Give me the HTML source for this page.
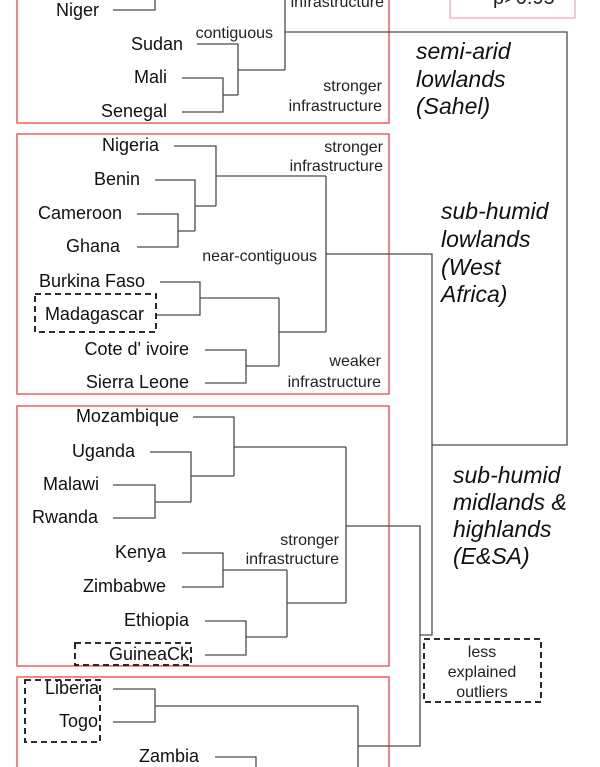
<!DOCTYPE html>
<html>
<head>
<meta charset="utf-8">
<style>
  html, body { margin: 0; padding: 0; background: #ffffff; }
  body { width: 600px; height: 767px; overflow: hidden; }
  svg { display: block; }
  .n { font-family: "Liberation Sans", Arial, sans-serif; font-size: 18px; fill: #111; text-anchor: end; }
  .s { font-family: "Liberation Sans", Arial, sans-serif; font-size: 16px; fill: #222; text-anchor: end; }
  .i { font-family: "Liberation Sans", Arial, sans-serif; font-size: 23px; font-style: italic; fill: #111; }
  .o { font-family: "Liberation Sans", Arial, sans-serif; font-size: 16px; fill: #222; text-anchor: middle; }
</style>
</head>
<body>
<svg width="600" height="767" viewBox="0 0 600 767" xmlns="http://www.w3.org/2000/svg">
  <rect x="0" y="0" width="600" height="767" fill="#ffffff"/>

  <!-- pink significance box -->
  <rect x="450" y="-10" width="125" height="28" fill="none" stroke="#f4b6bf" stroke-width="1.5"/>
  <text x="493" y="4" font-family="Liberation Sans, Arial, sans-serif" font-size="20" fill="#222">p&gt;0.95</text>

  <!-- red group boxes -->
  <g fill="none" stroke="#ee5f5f" stroke-width="1.5">
    <rect x="17" y="-10" width="372" height="133"/>
    <rect x="17" y="134" width="372" height="260"/>
    <rect x="17" y="406" width="372" height="260"/>
    <rect x="17" y="677" width="372" height="110"/>
  </g>

  <!-- dendrogram lines -->
  <g fill="none" stroke="#4a4a4a" stroke-width="1.3">
    <!-- Box 1 -->
    <polyline points="113,10 155,10 155,-5"/>
    <polyline points="197,44 238,44 238,95"/>
    <polyline points="182,78 223,78 223,112 182,112"/>
    <line x1="223" y1="95" x2="238" y2="95"/>
    <line x1="238" y1="70" x2="285" y2="70"/>
    <line x1="285" y1="-5" x2="285" y2="70"/>
    <polyline points="285,32 567,32 567,445 432,445"/>

    <!-- Box 2 -->
    <polyline points="174,146 216,146 216,206"/>
    <polyline points="155,180 195,180 195,231"/>
    <polyline points="137,214 178,214 178,247 137,247"/>
    <line x1="178" y1="231" x2="195" y2="231"/>
    <line x1="195" y1="206" x2="216" y2="206"/>
    <line x1="216" y1="176" x2="326" y2="176"/>
    <polyline points="160,282 200,282 200,315 155,315"/>
    <polyline points="205,350 246,350 246,383 205,383"/>
    <line x1="200" y1="298" x2="279" y2="298"/>
    <line x1="246" y1="366" x2="279" y2="366"/>
    <line x1="279" y1="298" x2="279" y2="366"/>
    <line x1="279" y1="332" x2="326" y2="332"/>
    <line x1="326" y1="176" x2="326" y2="332"/>
    <polyline points="326,254 432,254 432,635 420,635"/>

    <!-- Box 3 -->
    <polyline points="193,417 234,417 234,476"/>
    <polyline points="150,452 191,452 191,502"/>
    <polyline points="113,485 155,485 155,518 113,518"/>
    <line x1="155" y1="502" x2="191" y2="502"/>
    <line x1="191" y1="476" x2="234" y2="476"/>
    <line x1="234" y1="447" x2="346" y2="447"/>
    <polyline points="182,553 223,553 223,587 182,587"/>
    <polyline points="205,621 246,621 246,655 205,655"/>
    <line x1="223" y1="570" x2="287" y2="570"/>
    <line x1="246" y1="637" x2="287" y2="637"/>
    <line x1="287" y1="570" x2="287" y2="637"/>
    <line x1="287" y1="603" x2="346" y2="603"/>
    <line x1="346" y1="447" x2="346" y2="603"/>
    <polyline points="346,526 420,526 420,746 358,746"/>

    <!-- Box 4 -->
    <polyline points="113,689 155,689 155,722 113,722"/>
    <line x1="155" y1="706" x2="358" y2="706"/>
    <line x1="358" y1="706" x2="358" y2="780"/>
    <polyline points="215,757 256,757 256,780"/>
  </g>

  <!-- dashed outlier boxes -->
  <g fill="none" stroke="#111" stroke-width="1.8" stroke-dasharray="6,4">
    <rect x="35" y="294" width="121" height="38"/>
    <rect x="75" y="643" width="116" height="22"/>
    <rect x="25" y="680" width="75" height="62"/>
    <rect x="424" y="639" width="117" height="63"/>
  </g>

  <!-- country names -->
  <text class="n" x="99" y="16">Niger</text>
  <text class="n" x="183" y="50">Sudan</text>
  <text class="n" x="167" y="83">Mali</text>
  <text class="n" x="167" y="117">Senegal</text>

  <text class="n" x="159" y="151">Nigeria</text>
  <text class="n" x="140" y="185">Benin</text>
  <text class="n" x="122" y="219">Cameroon</text>
  <text class="n" x="120" y="252">Ghana</text>
  <text class="n" x="145" y="287">Burkina Faso</text>
  <text class="n" x="144" y="320">Madagascar</text>
  <text class="n" x="189" y="355">Cote d' ivoire</text>
  <text class="n" x="189" y="388">Sierra Leone</text>

  <text class="n" x="179" y="422">Mozambique</text>
  <text class="n" x="135" y="457">Uganda</text>
  <text class="n" x="99" y="490">Malawi</text>
  <text class="n" x="98" y="523">Rwanda</text>
  <text class="n" x="166" y="558">Kenya</text>
  <text class="n" x="166" y="592">Zimbabwe</text>
  <text class="n" x="189" y="626">Ethiopia</text>
  <text class="n" x="189" y="660">GuineaCk</text>

  <text class="n" x="99" y="694">Liberia</text>
  <text class="n" x="98" y="727">Togo</text>
  <text class="n" x="199" y="762">Zambia</text>

  <!-- small annotation labels -->
  <text class="s" x="384" y="-13">stronger</text>
  <text class="s" x="384" y="7">infrastructure</text>
  <text class="s" x="273" y="38">contiguous</text>
  <text class="s" x="382" y="91">stronger</text>
  <text class="s" x="382" y="111">infrastructure</text>

  <text class="s" x="383" y="152">stronger</text>
  <text class="s" x="383" y="171">infrastructure</text>
  <text class="s" x="317" y="261">near-contiguous</text>
  <text class="s" x="381" y="366">weaker</text>
  <text class="s" x="381" y="387">infrastructure</text>

  <text class="s" x="339" y="545">stronger</text>
  <text class="s" x="339" y="564">infrastructure</text>

  <!-- outliers label -->
  <text class="o" x="482" y="657">less</text>
  <text class="o" x="482" y="677">explained</text>
  <text class="o" x="482" y="697">outliers</text>

  <!-- italic region labels -->
  <text class="i" x="416" y="59">semi-arid</text>
  <text class="i" x="416" y="87">lowlands</text>
  <text class="i" x="416" y="114">(Sahel)</text>

  <text class="i" x="441" y="219">sub-humid</text>
  <text class="i" x="441" y="247">lowlands</text>
  <text class="i" x="441" y="275">(West</text>
  <text class="i" x="441" y="302">Africa)</text>

  <text class="i" x="453" y="483">sub-humid</text>
  <text class="i" x="453" y="510">midlands &amp;</text>
  <text class="i" x="453" y="537">highlands</text>
  <text class="i" x="453" y="564">(E&amp;SA)</text>
</svg>
</body>
</html>
